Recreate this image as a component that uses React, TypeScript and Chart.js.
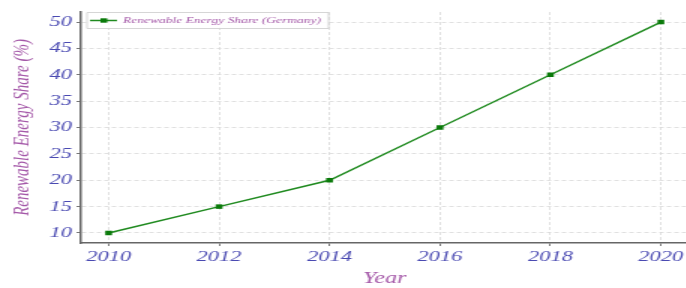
import React, { useEffect, useRef } from "react";
import { Chart, registerables } from "chart.js";

Chart.register(...registerables);

const years = [2010, 2012, 2014, 2016, 2018, 2020];
const shares = [10, 15, 20, 30, 40, 50];
const yTicks = [10, 15, 20, 25, 30, 35, 40, 45, 50];
const seriesLabel = "Renewable Energy Share (Germany)";
const xTitle = "Year";
const yTitle = "Renewable Energy Share (%)";

const SX = 1.5;
const W = 686;
const H = 288;
const IW = Math.round(W / SX) + 6;

const FONT = "'Liberation Serif', 'Times New Roman', Times, serif";
const TICK_COLOR = "#4a4ab2";
const TITLE_COLOR = "#a458a8";
const LINE_COLOR = "#1f8a1f";

const legendPlugin = {
  id: "insideLegend",
  afterDraw(chart: any) {
    const ctx = chart.ctx;
    const area = chart.chartArea;
    const ds = chart.data.datasets[0];
    ctx.save();
    ctx.font = `italic 9px ${FONT}`;
    const tw = ctx.measureText(ds.label).width;
    const x = area.left + 4;
    const y = area.top + 0.5;
    const w = 24 + tw + 5;
    const h = 16;
    ctx.fillStyle = "rgba(255,255,255,0.9)";
    ctx.strokeStyle = "#cccccc";
    ctx.lineWidth = 0.8;
    ctx.beginPath();
    ctx.rect(x, y, w, h);
    ctx.fill();
    ctx.stroke();
    const cy = y + h / 2;
    ctx.strokeStyle = LINE_COLOR;
    ctx.lineWidth = 1.5;
    ctx.beginPath();
    ctx.moveTo(x + 2, cy);
    ctx.lineTo(x + 20, cy);
    ctx.stroke();
    ctx.fillStyle = "#0a7a0a";
    ctx.fillRect(x + 9, cy - 2.2, 4.5, 4.4);
    ctx.fillStyle = TITLE_COLOR;
    ctx.textBaseline = "middle";
    ctx.textAlign = "left";
    ctx.fillText(ds.label, x + 24, cy + 0.5);
    ctx.restore();
  },
};

export default function App() {
  const ref = useRef<HTMLCanvasElement | null>(null);

  useEffect(() => {
    document.body.style.margin = "0";
    const canvas = ref.current!;
    const chart = new Chart(canvas, {
      type: "line",
      data: {
        datasets: [
          {
            label: seriesLabel,
            data: years.map((y, i) => ({ x: y, y: shares[i] })),
            borderColor: LINE_COLOR,
            backgroundColor: "#0a7a0a",
            borderWidth: 1.5,
            pointStyle: "rect",
            pointRadius: 3.2,
            pointBorderWidth: 0,
            tension: 0,
          },
        ],
      },
      options: {
        responsive: false,
        animation: false,
        devicePixelRatio: 1,
        layout: { padding: { top: 12, right: 0, left: 6, bottom: 0 } },
        plugins: {
          legend: { display: false },
          tooltip: { enabled: false },
        },
        scales: {
          x: {
            type: "linear",
            min: 2009.5,
            max: 2020.5,
            afterBuildTicks: (s: any) => {
              s.ticks = years.map((v) => ({ value: v }));
            },
            afterFit: (s: any) => {
              s.height = 45;
            },
            grid: {
              color: "#d8d8d8",
              lineWidth: 0.8,
              tickLength: 3,
              tickColor: "#555555",
            },
            border: { display: true, color: "#666666", width: 1.5, dash: [3, 2] },
            ticks: {
              color: TICK_COLOR,
              font: { family: FONT, size: 15, style: "italic" },
              padding: 2,
              maxRotation: 0,
              callback: (v: any) => String(v),
            },
            title: {
              display: true,
              text: xTitle,
              color: TITLE_COLOR,
              font: { family: FONT, size: 16, style: "italic" },
              padding: { top: 6, bottom: 0 },
            },
          },
          y: {
            type: "linear",
            min: 8.1,
            max: 51.9,
            afterBuildTicks: (s: any) => {
              s.ticks = yTicks.map((v) => ({ value: v }));
            },
            afterFit: (s: any) => {
              s.width = 48;
            },
            grid: {
              color: "#d8d8d8",
              lineWidth: 0.8,
              tickLength: 3,
              tickColor: "#555555",
            },
            border: { display: true, color: "#666666", width: 1.5, dash: [3, 2] },
            ticks: {
              color: TICK_COLOR,
              font: { family: FONT, size: 15, style: "italic" },
              padding: 3,
              callback: (v: any) => String(v),
            },
            title: {
              display: true,
              text: yTitle,
              color: TITLE_COLOR,
              font: { family: FONT, size: 15, style: "italic" },
              padding: { top: 0, bottom: 2 },
            },
          },
        },
      },
      plugins: [legendPlugin],
    } as any);
    return () => chart.destroy();
  }, []);

  return (
    <div style={{ width: W, height: H, overflow: "hidden" }}>
      <canvas
        ref={ref}
        width={IW}
        height={H}
        style={{
          width: IW,
          height: H,
          display: "block",
          transform: `scaleX(${SX})`,
          transformOrigin: "0 0",
        }}
      />
    </div>
  );
}
